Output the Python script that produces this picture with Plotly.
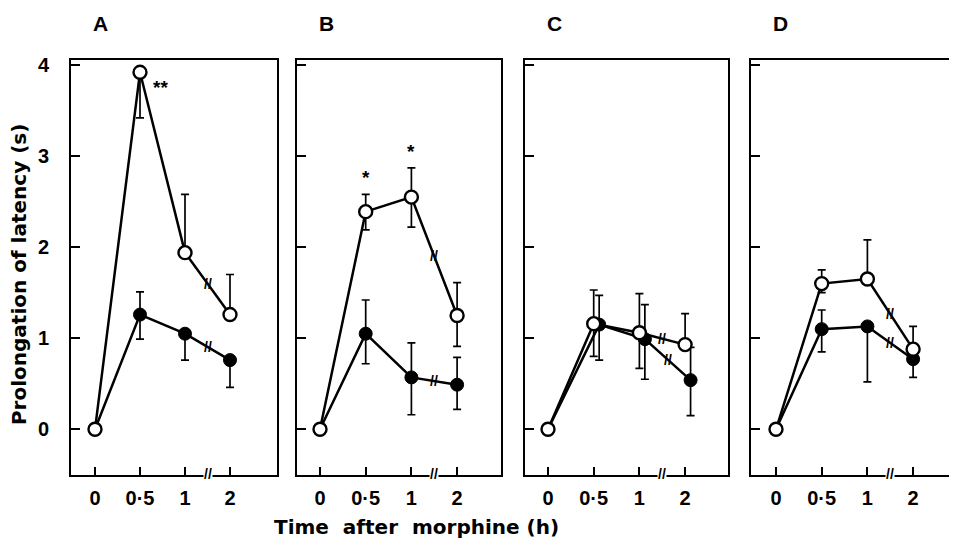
import plotly.graph_objects as go

# ---------------- data ----------------
TIME_LABELS = ["0", "0·5", "1", "2"]
PANELS = ["A", "B", "C", "D"]
Y_TICKS = [0, 1, 2, 3, 4]

open_A = [0, 3.92, 1.94, 1.26]
open_A_up = [0, 0, 0.64, 0.44]
open_A_dn = [0, 0.50, 0, 0]
filled_A = [0, 1.26, 1.05, 0.76]
filled_A_up = [0, 0.25, 0, 0]
filled_A_dn = [0, 0.27, 0.29, 0.30]

open_B = [0, 2.39, 2.55, 1.25]
open_B_up = [0, 0.19, 0.32, 0.36]
open_B_dn = [0, 0.20, 0.33, 0.34]
filled_B = [0, 1.05, 0.57, 0.49]
filled_B_up = [0, 0.37, 0.38, 0.30]
filled_B_dn = [0, 0.33, 0.41, 0.27]

open_C = [0, 1.16, 1.06, 0.93]
open_C_up = [0, 0.37, 0.43, 0.34]
open_C_dn = [0, 0.36, 0.39, 0]
filled_C = [0, 1.15, 0.99, 0.54]
filled_C_up = [0, 0.32, 0.38, 0.36]
filled_C_dn = [0, 0.39, 0.44, 0.39]

open_D = [0, 1.60, 1.65, 0.88]
open_D_up = [0, 0.15, 0.43, 0.25]
open_D_dn = [0, 0.10, 0, 0]
filled_D = [0, 1.10, 1.13, 0.77]
filled_D_up = [0, 0.21, 0, 0]
filled_D_dn = [0, 0.25, 0.61, 0.20]

SIGNIF_A = ["", "**", "", ""]
SIGNIF_B = ["", "*", "*", ""]

# ---------------- layout constants ----------------
PAGE_OFF = 8                      # default body margin of the html page
W, H = 957 - PAGE_OFF, 551 - PAGE_OFF
FONT = "Liberation Sans, Arial, sans-serif"
TFONT = "DejaVu Sans, Liberation Sans, sans-serif"


def px(xp):
    return (xp - PAGE_OFF) / W


def py(yp):
    return 1 - (yp - PAGE_OFF) / H


panel_px = [(71, 277), (297, 501), (525, 728), (751, 954)]
zero_px = [95, 320, 548, 776]
step_px = [45.0, 45.7, 45.7, 45.7]
top_px, bot_px = 55, 474
y_range = [-0.50, 4.05]
filled_offset = [0, 0, 0.12, 0]

data = {
    "A": (open_A, open_A_up, open_A_dn, filled_A, filled_A_up, filled_A_dn, SIGNIF_A),
    "B": (open_B, open_B_up, open_B_dn, filled_B, filled_B_up, filled_B_dn, SIGNIF_B),
    "C": (open_C, open_C_up, open_C_dn, filled_C, filled_C_up, filled_C_dn, None),
    "D": (open_D, open_D_up, open_D_dn, filled_D, filled_D_up, filled_D_dn, None),
}

fig = go.Figure()
annotations = []
idx = list(range(len(TIME_LABELS)))

for i, p in enumerate(PANELS):
    o, ou, od, f, fu, fd, sig = data[p]
    xn = "x" if i == 0 else f"x{i+1}"
    yn = "y" if i == 0 else f"y{i+1}"
    xk = "xaxis" if i == 0 else f"xaxis{i+1}"
    yk = "yaxis" if i == 0 else f"yaxis{i+1}"
    off = filled_offset[i]
    fx = [k + (off if k > 0 else 0) for k in idx]

    err_style = dict(type="data", symmetric=False, color="black", thickness=1.7, width=4)
    # filled series (drawn first so the open circle at 0 covers it)
    fig.add_trace(go.Scatter(
        x=fx, y=f, xaxis=xn, yaxis=yn, mode="lines+markers",
        line=dict(color="black", width=2.5),
        marker=dict(symbol="circle", size=13, color="black", line=dict(color="black", width=1)),
        error_y=dict(array=fu, arrayminus=fd, **err_style),
        showlegend=False, cliponaxis=False))
    fig.add_trace(go.Scatter(
        x=idx, y=o, xaxis=xn, yaxis=yn, mode="lines+markers",
        line=dict(color="black", width=2.5),
        marker=dict(symbol="circle", size=13, color="white", line=dict(color="black", width=2.4)),
        error_y=dict(array=ou, arrayminus=od, **err_style),
        showlegend=False, cliponaxis=False))

    x0, x1 = panel_px[i]
    xr = [(x0 - zero_px[i]) / step_px[i], (x1 - zero_px[i]) / step_px[i]]
    fig.update_layout(**{
        xk: dict(domain=[px(x0), min(px(x1), 1.0)], range=xr, anchor=yn,
                 tickvals=idx, ticktext=TIME_LABELS, ticks="inside", ticklen=8,
                 tickwidth=2, tickcolor="black", showline=True, mirror=True,
                 linecolor="black", linewidth=2, showgrid=False, zeroline=False,
                 ticklabelstandoff=4,
                 tickfont=dict(family=FONT, size=20, color="black", weight="bold")),
        yk: dict(domain=[py(bot_px), py(top_px)], range=y_range, anchor=xn,
                 tickvals=Y_TICKS, ticks="inside", ticklen=9, tickwidth=2,
                 tickcolor="black", showline=True, mirror=True, linecolor="black",
                 linewidth=2, showgrid=False, zeroline=False,
                 showticklabels=(i == 0), ticklabelstandoff=16,
                 tickfont=dict(family=FONT, size=20, color="black", weight="bold")),
    })

    # panel letter
    annotations.append(dict(text=f"<b>{p}</b>", xref="paper", yref="paper",
                            x=px(x0 + 29), y=py(18), xanchor="center", yanchor="middle",
                            showarrow=False, font=dict(family=FONT, size=21, color="black")))
    # axis break on x axis (between 1 and 2)
    annotations.append(dict(text="<b>//</b>", xref=xn, yref=yn, x=(idx[2] + idx[3]) / 2,
                            y=y_range[0], showarrow=False, bgcolor="white",
                            font=dict(family=FONT, size=14, color="black"),
                            borderpad=0, yshift=1))
    # breaks on lines
    for xs, ys in ((idx, o), (fx, f)):
        annotations.append(dict(text="<b>//</b>", xref=xn, yref=yn,
                                x=(xs[2] + xs[3]) / 2, y=(ys[2] + ys[3]) / 2,
                                showarrow=False,
                                font=dict(family=FONT, size=14, color="black")))
    # significance marks
    if sig:
        for k, s in enumerate(sig):
            if not s:
                continue
            if p == "A":
                annotations.append(dict(text=f"<b>{s}</b>", xref=xn, yref=yn,
                                        x=idx[k] + 0.45, y=o[k] - 0.17, showarrow=False,
                                        font=dict(family=FONT, size=19, color="black")))
            else:
                annotations.append(dict(text=f"<b>{s}</b>", xref=xn, yref=yn,
                                        x=idx[k], y=o[k] + ou[k] + 0.18, showarrow=False,
                                        font=dict(family=FONT, size=19, color="black")))

annotations.append(dict(text="<b>Prolongation of latency (s)</b>", xref="paper", yref="paper",
                        x=px(19), y=py(272), textangle=-90, showarrow=False,
                        xanchor="center", yanchor="middle",
                        font=dict(family=TFONT, size=20, color="black")))
annotations.append(dict(text="<b>Time  after  morphine (h)</b>", xref="paper", yref="paper",
                        x=px(416), y=py(527), showarrow=False,
                        xanchor="center", yanchor="middle",
                        font=dict(family=TFONT, size=20, color="black")))

fig.update_layout(width=W, height=H, margin=dict(l=0, r=0, t=0, b=0),
                  paper_bgcolor="white", plot_bgcolor="white",
                  annotations=annotations, showlegend=False)

fig.write_html("out.html")
